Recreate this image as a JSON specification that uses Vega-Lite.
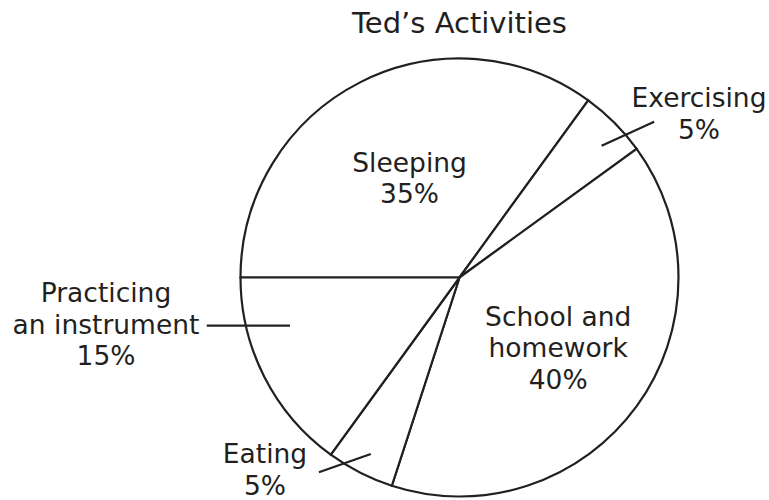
{
  "$schema": "https://vega.github.io/schema/vega-lite/v6.json",
  "width": 619,
  "height": 445,
  "autosize": {"type": "none"},
  "padding": {"left": 150, "top": 55, "right": 0, "bottom": 0},
  "background": "white",
  "title": {
    "text": "Ted’s Activities",
    "font": "DejaVu Sans",
    "fontSize": 29,
    "fontWeight": "normal",
    "color": "#231f20",
    "anchor": "middle",
    "offset": 15
  },
  "config": {"view": {"stroke": null}},
  "data": {
    "values": [
      {"activity": "Sleeping", "percent": 35, "rank": 1, "label": "Sleeping\n35%"},
      {"activity": "Exercising", "percent": 5, "rank": 2, "label": "Exercising\n5%"},
      {"activity": "School and homework", "percent": 40, "rank": 3, "label": "School and\nhomework\n40%"},
      {"activity": "Eating", "percent": 5, "rank": 4, "label": "Eating\n5%"},
      {"activity": "Practicing an instrument", "percent": 15, "rank": 5, "label": "Practicing\nan instrument\n15%"}
    ]
  },
  "layer": [
    {
      "mark": {"type": "arc", "radius": 219, "fill": "white", "stroke": "#231f20", "strokeWidth": 2.2},
      "encoding": {
        "theta": {"field": "percent", "type": "quantitative", "stack": true, "scale": {"domain": [0, 100], "range": [-1.5707963, 4.712389]}},
        "order": {"field": "rank", "type": "quantitative"}
      }
    },
    {
      "mark": {"type": "text", "radius": 110, "dy": -15.75, "font": "DejaVu Sans", "fontSize": 26.5, "lineHeight": 31.5, "lineBreak": "\n", "align": "center", "baseline": "middle", "color": "#231f20"},
      "encoding": {
        "theta": {"field": "percent", "type": "quantitative", "stack": true, "scale": {"domain": [0, 100], "range": [-1.5707963, 4.712389]}},
        "order": {"field": "rank", "type": "quantitative"},
        "text": {"condition": {"test": "datum.activity === 'Sleeping'", "field": "label"}, "value": ""}
      }
    },
    {
      "mark": {"type": "text", "radius": 122, "dy": -31.5, "font": "DejaVu Sans", "fontSize": 26.5, "lineHeight": 31.5, "lineBreak": "\n", "align": "center", "baseline": "middle", "color": "#231f20"},
      "encoding": {
        "theta": {"field": "percent", "type": "quantitative", "stack": true, "scale": {"domain": [0, 100], "range": [-1.5707963, 4.712389]}},
        "order": {"field": "rank", "type": "quantitative"},
        "text": {"condition": {"test": "datum.activity === 'School and homework'", "field": "label"}, "value": ""}
      }
    },
    {
      "mark": {"type": "text", "radius": 140, "dx": 140.5, "dy": -79.2, "font": "DejaVu Sans", "fontSize": 26.5, "lineHeight": 31.5, "lineBreak": "\n", "align": "center", "baseline": "middle", "color": "#231f20"},
      "encoding": {
        "theta": {"field": "percent", "type": "quantitative", "stack": true, "scale": {"domain": [0, 100], "range": [-1.5707963, 4.712389]}},
        "order": {"field": "rank", "type": "quantitative"},
        "text": {"condition": {"test": "datum.activity === 'Exercising'", "field": "label"}, "value": ""}
      }
    },
    {
      "mark": {"type": "text", "radius": 150, "dx": -126.4, "dy": 44.2, "font": "DejaVu Sans", "fontSize": 26.5, "lineHeight": 31.5, "lineBreak": "\n", "align": "center", "baseline": "middle", "color": "#231f20"},
      "encoding": {
        "theta": {"field": "percent", "type": "quantitative", "stack": true, "scale": {"domain": [0, 100], "range": [-1.5707963, 4.712389]}},
        "order": {"field": "rank", "type": "quantitative"},
        "text": {"condition": {"test": "datum.activity === 'Eating'", "field": "label"}, "value": ""}
      }
    },
    {
      "mark": {"type": "text", "radius": 120, "dx": -246.6, "dy": -37.5, "font": "DejaVu Sans", "fontSize": 26.5, "lineHeight": 31.5, "lineBreak": "\n", "align": "center", "baseline": "middle", "color": "#231f20"},
      "encoding": {
        "theta": {"field": "percent", "type": "quantitative", "stack": true, "scale": {"domain": [0, 100], "range": [-1.5707963, 4.712389]}},
        "order": {"field": "rank", "type": "quantitative"},
        "text": {"condition": {"test": "datum.activity === 'Practicing an instrument'", "field": "label"}, "value": ""}
      }
    },
    {
      "data": {
        "values": [
          {"leader": "Exercising", "x_start": 0.649, "y_start": 0.602, "x_end": 0.889, "y_end": 0.711},
          {"leader": "Practicing an instrument", "x_start": -1.154, "y_start": -0.22, "x_end": -0.774, "y_end": -0.22},
          {"leader": "Eating", "x_start": -0.642, "y_start": -0.889, "x_end": -0.405, "y_end": -0.806}
        ]
      },
      "mark": {"type": "rule", "stroke": "#231f20", "strokeWidth": 2.2},
      "encoding": {
        "x": {"field": "x_start", "type": "quantitative", "scale": {"domain": [-1.4132, 1.4132], "nice": false, "zero": false}, "axis": null},
        "y": {"field": "y_start", "type": "quantitative", "scale": {"domain": [-1.016, 1.016], "nice": false, "zero": false}, "axis": null},
        "x2": {"field": "x_end"},
        "y2": {"field": "y_end"}
      }
    }
  ]
}
